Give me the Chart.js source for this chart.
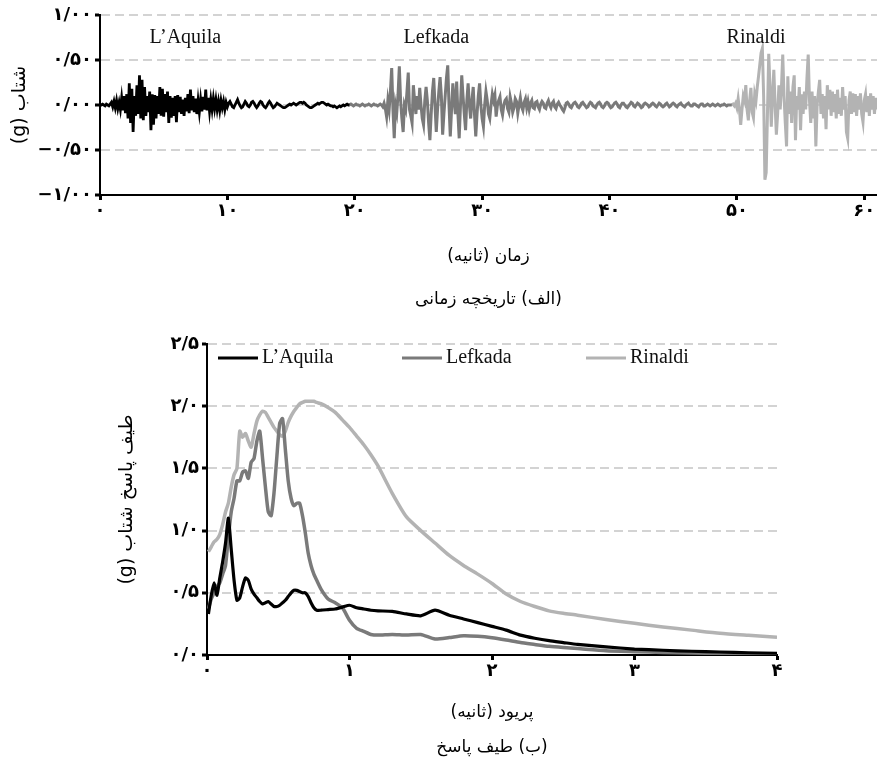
<!DOCTYPE html>
<html lang="fa">
<head>
<meta charset="utf-8">
<title>تاریخچه زمانی و طیف پاسخ</title>
<script src="https://cdn.jsdelivr.net/npm/chart.js"></script>
<style>
    html, body { margin: 0; padding: 0; background: #fff; }
    #wrap { position: relative; width: 877px; height: 769px; overflow: hidden; }
    #historyChart { position: absolute; left: 0; top: 0; }
    #spectrumChart { position: absolute; left: 0; top: 325px; }
</style>
</head>
<body>
<div id="wrap">
    <canvas id="historyChart" width="877" height="325"></canvas>
    <canvas id="spectrumChart" width="877" height="444"></canvas>
</div>
<script>
const recordNames = ['L’Aquila', 'Lefkada', 'Rinaldi'];
const recordColors = ['#000000', '#7a7a7a', '#b3b3b3'];

// time history (g), one value every 0.1 s
const timeStep = 0.1;
const timeTicks = [0, 10, 20, 30, 40, 50, 60];
const accTicks = [-1, -0.5, 0, 0.5, 1];

const aquilaStart = 0;
const aquilaAcc = [
    0, 0, 0.01, 0, -0.01, 0.01, 0, -0.01, 0.01,
    0.03, -0.02, 0.04, -0.03, 0.05, -0.04, 0.03, -0.05,
    0.08, -0.06, 0.1, -0.09, 0.12,
    -0.15, 0.24, -0.2, 0.18, -0.3, 0.1,
    -0.12, 0.22, -0.1, 0.33, -0.15, 0.28, -0.17, 0.2,
    -0.12, 0.1, -0.08, 0.15, -0.28, 0.12, -0.22, 0.11,
    -0.15, 0.1, -0.1, 0.2, -0.12, 0.18, -0.13, 0.12, -0.08,
    0.15, -0.2, 0.1, -0.14, 0.08, -0.12, 0.1, -0.19,
    0.11, -0.08, 0.09, -0.1, 0.06, -0.12, 0.08, -0.07, 0.12, -0.09,
    0.17, -0.06, 0.1, -0.08, 0.07, -0.1, 0.05, -0.08, 0.06, -0.07,
    0.09, -0.05, 0.17, -0.06, 0.08, -0.07, 0.06, -0.05, 0.07, -0.04,
    0.06, -0.05, 0.04, -0.06, 0.05, -0.03, 0.04, -0.05, 0.03, -0.02,
    0.02, 0.04, 0.01, -0.02, -0.03, 0, 0.03, 0.06, 0.02, -0.01,
    -0.03, -0.02, 0.01, 0.04, 0.02, -0.01, -0.02, 0, 0.03, 0.04,
    0.02, -0.01, -0.03, -0.01, 0.02, 0.04, 0.03, 0, -0.02, -0.03,
    -0.01, 0.02, 0.04, 0.02, -0.01, -0.03, -0.02, 0, 0.02, 0.01,
    0, -0.01, -0.02, -0.03, -0.03, -0.02, -0.01, 0, 0.01,
    0, 0.01, 0.02, 0.01, 0, 0.01, 0.02, 0.03, 0.03, 0.02, 0.03,
    0.02, 0, -0.01, -0.02, -0.03, -0.03, -0.02, -0.01, 0,
    0.01, 0.02, 0.01, 0.02, 0.03, 0.03, 0.02, 0.01, 0, 0.01,
    0, -0.01, -0.01, -0.02, -0.01, -0.02, -0.03, -0.02, -0.01, -0.02,
    -0.01, 0, -0.01, 0, 0.01, 0, 0
];

const lefkadaStart = 19.6;
const lefkadaAcc = [
    0, 0.01, 0, -0.01, 0, 0.01, 0, 0, -0.01, 0,
    0.01, 0, -0.01, 0, 0, 0.01, 0, -0.01, 0, 0.01,
    0, 0, -0.01, 0, 0.01, 0, -0.02, 0.02, -0.04,
    -0.13, 0.05, -0.05, 0.15, 0.41, -0.05, -0.37, 0, -0.08, 0.12,
    0.43, 0.05, -0.15, -0.3, 0, -0.05, 0.15, 0.36, -0.05, -0.12,
    -0.2, 0.22, 0.05, -0.1, 0.1, -0.05, 0.19, 0, -0.15, -0.22,
    0.05, 0.2, 0.05, -0.2, -0.39, -0.1, 0.15, 0.3, 0, -0.3,
    -0.05, 0.15, 0.31, 0.1, -0.33, -0.1, 0.1, 0.3, 0.44, 0,
    -0.35, -0.05, 0.24, 0.05, -0.1, 0.26, -0.1, -0.37, 0, 0.33,
    0.1, -0.1, -0.28, 0.05, 0.24, 0, -0.15, 0.05, 0.2, -0.1,
    -0.35, -0.1, 0.1, 0.24, 0, -0.15, -0.24, 0, 0.15, 0.05,
    -0.1, -0.15, 0, 0.12, 0.05, 0.11, -0.13, 0, 0.05, 0.09,
    -0.05, -0.11, 0, 0.05, 0.07, -0.04, -0.08,
    0.09, 0.02, -0.08, -0.03, 0.07, 0.04, -0.09, 0, 0.08, -0.02, -0.06, 0.03, 0.07, -0.03,
    0.04, -0.05, 0.02, 0.05, -0.03, -0.04, 0.03, 0.04, -0.02, -0.05,
    0.01, 0.04, 0.02, -0.03, -0.04, 0.02, 0.05, 0, -0.03, 0.02,
    0.04, -0.02, -0.04, 0.01, 0.03, 0, -0.02, -0.05, -0.07, -0.03, 0.02,
    0.03, 0.01, -0.02, -0.03, 0, 0.02, 0.03, 0.01, -0.02, -0.03,
    -0.01, 0.02, 0.03, 0.01, -0.01, -0.03, -0.02, 0.01, 0.03, 0.02,
    -0.01, -0.02, -0.03, 0, 0.02, 0.03, 0.01, -0.02, -0.03, -0.01,
    0.02, 0.03, 0.02, -0.01, -0.03, -0.02, 0, 0.02, 0.03, 0.01,
    -0.02, -0.03, 0, 0.02, 0.02, 0, -0.02, -0.03, -0.01, 0.01,
    0.03, 0.02, -0.01, -0.02, 0, 0.02, 0.01, -0.01, -0.03, -0.02,
    0.01, 0.02, 0.01,
    0, -0.02, -0.01, 0.01, 0.02, 0.01, -0.01, -0.02, 0, 0.02,
    0.01, -0.01, -0.02, -0.01, 0.01, 0.02, 0, -0.02, -0.01, 0.01,
    0.02, 0.01, -0.01, -0.02, 0, 0.01, 0.02, 0, -0.01, -0.02,
    0, 0.01, 0.02, 0, -0.01, -0.01, 0.01, 0.01, 0, -0.01,
    -0.02, 0, 0.01, 0.01, -0.01, -0.01, 0, 0.01, 0, -0.01,
    0, 0.01, 0, -0.01, 0, 0.01, 0, -0.01, 0, 0,
    0.01, 0, -0.01, 0, 0, 0, 0
];

const rinaldiStart = 49.6;
const rinaldiAcc = [
    0, 0.01, -0.01, 0.02, -0.03, 0.07, -0.05, -0.22, -0.05, 0.1,
    0.05, 0.22, -0.05, -0.17, 0.05, 0.19, -0.08, -0.14, 0.12, 0.05,
    0.2, 0.32, 0.45, 0.58, 0.63, 0.1, -0.83, -0.75, -0.1, 0.57,
    0.2, -0.24, 0.1, 0.39, 0, -0.33, -0.1, 0.22, -0.05, 0.2,
    0.56, 0.1, -0.2, -0.46, 0.32, -0.1, 0.15, -0.2, 0.2, 0.33,
    -0.39, 0.1, -0.05, 0.2, -0.28, 0.12, -0.1, 0.15, -0.05, 0.3,
    0.56, 0.05, -0.2, 0.15, -0.15, 0.1, -0.46, 0, 0.15, 0.28,
    -0.1, 0.12, -0.15, 0.1, -0.27, 0.22, -0.05, 0.17, -0.12, 0.15,
    -0.08, 0.12, -0.15, 0.17, -0.1, 0.08, -0.12, 0.2, -0.05, 0.1,
    -0.3, -0.37, 0.05, 0.15, -0.1, 0.13, -0.08, 0.12, -0.12, 0.1,
    -0.05, 0.13, -0.1, -0.19, 0.05, 0.12, -0.08, 0.1, -0.12, 0.13,
    -0.05, 0.1, -0.1, 0.08, -0.05
];

// response spectrum (g) against period (s)
const periodTicks = [0, 1, 2, 3, 4];
const saTicks = [0, 0.5, 1, 1.5, 2, 2.5];
const periods = [
    0.01, 0.03, 0.05, 0.07, 0.09, 0.11, 0.13, 0.15, 0.17, 0.19,
    0.21, 0.23, 0.25, 0.27, 0.29, 0.31, 0.33, 0.35, 0.37, 0.39,
    0.41, 0.43, 0.45, 0.47, 0.49, 0.51, 0.53, 0.55, 0.57, 0.59,
    0.61, 0.63, 0.65, 0.67, 0.69, 0.71, 0.73, 0.75, 0.77, 0.8,
    0.85, 0.9, 0.95, 1.0, 1.05, 1.1, 1.15, 1.2, 1.3, 1.4,
    1.5, 1.6, 1.7, 1.8, 1.9, 2.0, 2.1, 2.2, 2.3, 2.4,
    2.5, 2.6, 2.8, 3.0, 3.2, 3.4, 3.6, 3.8, 4.0
];
const aquilaSa = [
    0.33, 0.48, 0.58, 0.48, 0.62, 0.75, 0.90, 1.10, 0.85, 0.60,
    0.44, 0.46, 0.55, 0.62, 0.60, 0.53, 0.49, 0.46, 0.43, 0.41,
    0.42, 0.43, 0.41, 0.39, 0.39, 0.40, 0.42, 0.44, 0.47, 0.50,
    0.52, 0.52, 0.51, 0.50, 0.50, 0.47, 0.42, 0.38, 0.36, 0.36,
    0.365, 0.37, 0.385, 0.40, 0.38, 0.37, 0.36, 0.355, 0.35, 0.33,
    0.315, 0.36, 0.32, 0.29, 0.26, 0.23, 0.20, 0.16, 0.135, 0.115,
    0.10, 0.085, 0.065, 0.048, 0.038, 0.03, 0.024, 0.018, 0.014
];
const lefkadaSa = [
    0.37, 0.45, 0.50, 0.55, 0.58, 0.65, 0.72, 0.95, 1.15, 1.26,
    1.40, 1.40, 1.47, 1.48, 1.42, 1.55, 1.58, 1.72, 1.80, 1.58,
    1.35, 1.15, 1.12, 1.30, 1.59, 1.86, 1.90, 1.65, 1.40, 1.26,
    1.20, 1.22, 1.22, 1.12, 0.98, 0.82, 0.72, 0.65, 0.60, 0.53,
    0.45, 0.42, 0.38, 0.28, 0.215, 0.19, 0.165, 0.16, 0.165, 0.16,
    0.165, 0.128, 0.14, 0.155, 0.15, 0.138, 0.12, 0.10, 0.085, 0.07,
    0.06, 0.052, 0.035, 0.027, 0.02, 0.016, 0.013, 0.01, 0.008
];
const rinaldiSa = [
    0.83, 0.87, 0.91, 0.93, 0.97, 1.05, 1.15, 1.22, 1.35, 1.45,
    1.50, 1.80, 1.75, 1.78, 1.72, 1.67, 1.78, 1.88, 1.93, 1.96,
    1.95, 1.91, 1.87, 1.83, 1.80, 1.77, 1.76, 1.80, 1.87, 1.92,
    1.96, 1.99, 2.02, 2.03, 2.04, 2.04, 2.04, 2.04, 2.03, 2.02,
    1.99, 1.95, 1.89, 1.83, 1.76, 1.69, 1.61, 1.52, 1.30, 1.11,
    1.00, 0.90, 0.80, 0.72, 0.65, 0.575, 0.49, 0.43, 0.39, 0.355,
    0.335, 0.32, 0.285, 0.255, 0.225, 0.20, 0.175, 0.158, 0.142
];

const faDigits = '۰۱۲۳۴۵۶۷۸۹';
function toFa(v, decimals) {
    const s = Math.abs(v).toFixed(decimals).replace(/\d/g, d => faDigits[d]).replace('.', '/');
    return v < 0 ? '−' + s : s;
}
const rtl = s => '\u202B' + s + '\u202C';

const tickFont = { family: '"DejaVu Sans"', size: 18, weight: 'bold' };
const xTitleFont = { family: '"DejaVu Sans"', size: 17 };
const yTitleFont = { family: '"DejaVu Sans"', size: 19 };
const latinFont = '20px "Liberation Serif"';
const gridGray = '#d3d3d3';

function timeSeries(start, values) {
    return values.map((v, i) => ({ x: +(start + i * timeStep).toFixed(2), y: v }));
}

// record names written above each part of the time history
const nameSpots = [[6.7, 0.75], [26.4, 0.75], [51.5, 0.75]];
const recordLabels = {
    id: 'recordLabels',
    afterDatasetsDraw(chart) {
        const { ctx, scales: { x, y } } = chart;
        ctx.save();
        ctx.font = latinFont;
        ctx.fillStyle = '#111';
        ctx.textAlign = 'center';
        ctx.textBaseline = 'middle';
        nameSpots.forEach(([t, v], i) => {
            ctx.fillText(recordNames[i], x.getPixelForValue(t), y.getPixelForValue(v));
        });
        ctx.restore();
    }
};

// legend inside the spectrum plot area
const spectrumLegend = {
    id: 'spectrumLegend',
    afterDraw(chart) {
        const { ctx, chartArea } = chart;
        const y = chartArea.top + 14;
        ctx.save();
        ctx.font = latinFont;
        ctx.textBaseline = 'middle';
        chart.data.datasets.forEach((ds, i) => {
            const x = chartArea.left + 11 + i * 184;
            ctx.strokeStyle = ds.borderColor;
            ctx.lineWidth = 3;
            ctx.beginPath();
            ctx.moveTo(x, y);
            ctx.lineTo(x + 40, y);
            ctx.stroke();
            ctx.fillStyle = '#111';
            ctx.fillText(ds.label, x + 44, y);
        });
        ctx.restore();
    }
};

function axisX(min, max, ticks, digits, title, height, lineHeight, pad) {
    return {
        type: 'linear',
        min: min,
        max: max,
        afterBuildTicks: s => { s.ticks = ticks.map(v => ({ value: v })); },
        afterFit: s => { s.height = height; },
        ticks: { callback: v => toFa(v, digits), font: tickFont, color: '#000', maxRotation: 0, autoSkip: false, padding: 1 },
        grid: { drawOnChartArea: false, tickLength: 5, tickColor: '#000', tickWidth: 3 },
        border: { color: '#000', width: 2 },
        title: {
            display: true,
            text: title.map(rtl),
            color: '#000',
            font: Object.assign({}, xTitleFont, { lineHeight: lineHeight + 'px' }),
            padding: { top: 0, bottom: pad }
        }
    };
}

function axisY(min, max, ticks, digits, title, width, pad) {
    return {
        min: min,
        max: max,
        afterBuildTicks: s => { s.ticks = ticks.map(v => ({ value: v })); },
        afterFit: s => { s.width = width; },
        ticks: { callback: v => toFa(v, digits), font: tickFont, color: '#000', padding: 3 },
        grid: { color: gridGray, lineWidth: 2, tickLength: 5, tickColor: '#000', tickWidth: 3 },
        border: { color: '#000', width: 2, dash: [9, 5] },
        title: {
            display: true,
            text: rtl(title),
            color: '#000',
            font: yTitleFont,
            padding: { top: pad, bottom: 0 }
        }
    };
}

new Chart(document.getElementById('historyChart'), {
    type: 'line',
    data: {
        datasets: [
            { label: recordNames[0], data: timeSeries(aquilaStart, aquilaAcc), borderColor: recordColors[0], borderWidth: 2.8 },
            { label: recordNames[1], data: timeSeries(lefkadaStart, lefkadaAcc), borderColor: recordColors[1], borderWidth: 3 },
            { label: recordNames[2], data: timeSeries(rinaldiStart, rinaldiAcc), borderColor: recordColors[2], borderWidth: 3 }
        ]
    },
    options: {
        responsive: false,
        animation: false,
        layout: { padding: { top: 15, right: 0, bottom: 0, left: 0 } },
        elements: { point: { radius: 0 }, line: { tension: 0 } },
        plugins: { legend: { display: false }, tooltip: { enabled: false } },
        scales: {
            x: axisX(0, 61, timeTicks, 0, ['زمان (ثانیه)', '(الف) تاریخچه زمانی'], 130, 43, 3.5),
            y: axisY(-1, 1, accTicks, 2, 'شتاب (g)', 100, 8.6)
        }
    },
    plugins: [recordLabels]
});

new Chart(document.getElementById('spectrumChart'), {
    type: 'line',
    data: {
        datasets: [
            { label: recordNames[0], data: periods.map((t, i) => ({ x: t, y: aquilaSa[i] })), borderColor: recordColors[0], borderWidth: 3.2 },
            { label: recordNames[1], data: periods.map((t, i) => ({ x: t, y: lefkadaSa[i] })), borderColor: recordColors[1], borderWidth: 3.5 },
            { label: recordNames[2], data: periods.map((t, i) => ({ x: t, y: rinaldiSa[i] })), borderColor: recordColors[2], borderWidth: 3.5 }
        ]
    },
    options: {
        responsive: false,
        animation: false,
        layout: { padding: { top: 19, right: 100, bottom: 0, left: 0 } },
        elements: { point: { radius: 0 }, line: { tension: 0.2 } },
        plugins: { legend: { display: false }, tooltip: { enabled: false } },
        scales: {
            x: axisX(0, 4, periodTicks, 0, ['پریود (ثانیه)', '(ب) طیف پاسخ'], 114, 35, 3.5),
            y: axisY(0, 2.5, saTicks, 1, 'طیف پاسخ شتاب (g)', 207, 115.6)
        }
    },
    plugins: [spectrumLegend]
});
</script>
</body>
</html>
